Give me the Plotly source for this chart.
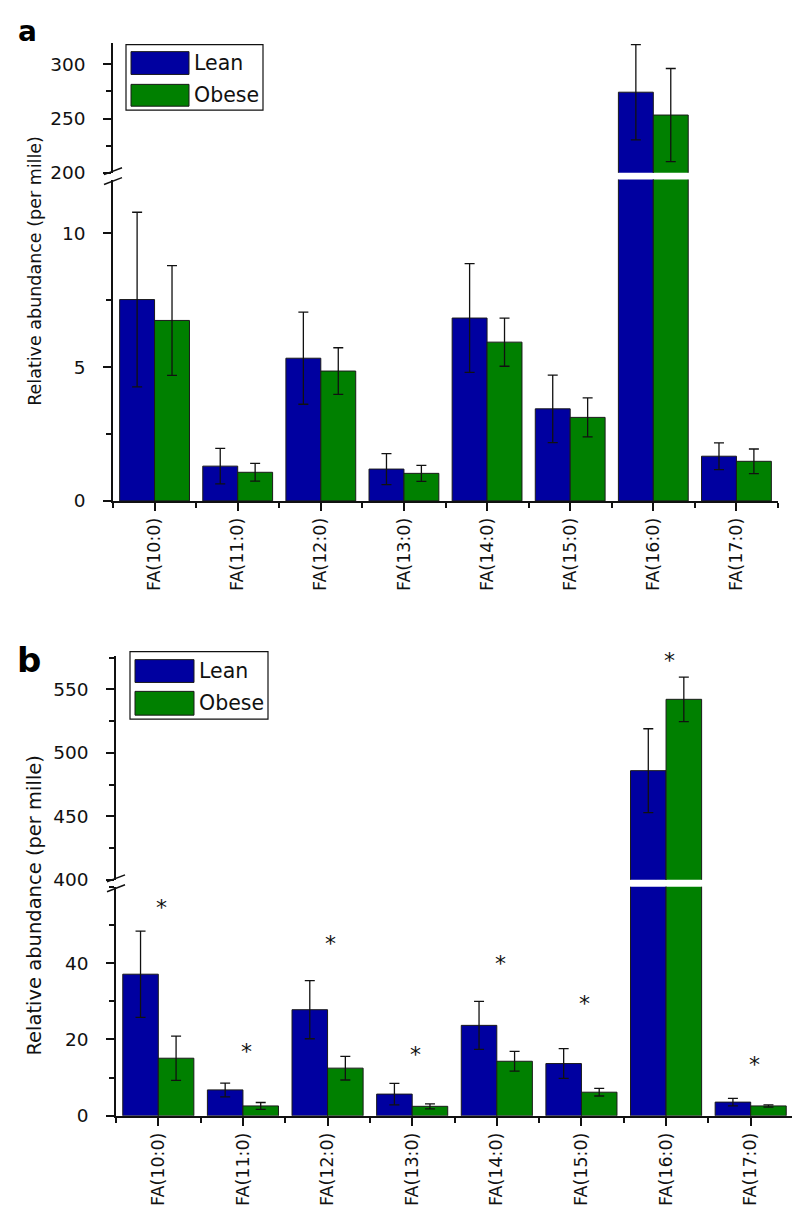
import plotly.graph_objects as go

categories = ["FA(10:0)", "FA(11:0)", "FA(12:0)", "FA(13:0)", "FA(14:0)", "FA(15:0)", "FA(16:0)", "FA(17:0)"]

# Panel a
a_lean = [7.52, 1.30, 5.33, 1.19, 6.83, 3.44, 274.3, 1.67]
a_lean_err = [3.26, 0.66, 1.72, 0.58, 2.03, 1.26, 44.0, 0.50]
a_obese = [6.74, 1.07, 4.85, 1.03, 5.93, 3.12, 253.2, 1.48]
a_obese_err = [2.05, 0.33, 0.87, 0.30, 0.90, 0.73, 43.0, 0.46]

# Panel b
b_lean = [37.1, 6.8, 27.8, 5.7, 23.7, 13.7, 486.0, 3.6]
b_lean_err = [11.3, 1.8, 7.6, 2.8, 6.3, 3.9, 33.0, 1.0]
b_obese = [15.1, 2.6, 12.5, 2.5, 14.3, 6.2, 542.2, 2.6]
b_obese_err = [5.8, 0.9, 3.1, 0.65, 2.6, 1.0, 17.5, 0.3]
b_star_y = [54.5, 16.9, 45.2, 16.2, 40.0, 29.4, 573.0, 13.5]

series_names = ["Lean", "Obese"]
LEAN_C = "#0000A0"
OBESE_C = "#008000"
FONT = "DejaVu Sans"
W, H = 800, 1223

xpos = list(range(len(categories)))

def px(x):
    return x / W

def py(y):
    return 1 - y / H

fig = go.Figure()

def add_pair(vals_l, err_l, vals_o, err_o, xa, ya):
    for vals, err, name, col in [(vals_l, err_l, series_names[0], LEAN_C),
                                 (vals_o, err_o, series_names[1], OBESE_C)]:
        fig.add_trace(go.Bar(
            x=xpos, y=vals, name=name, showlegend=False,
            marker=dict(color=col, line=dict(color="#1a1a1a", width=1)),
            error_y=dict(type="data", array=err, visible=True, color="#111111",
                         thickness=1.3, width=5),
            xaxis=xa, yaxis=ya,
        ))

# panel a: lower (y) and upper (y2) segments
add_pair(a_lean, a_lean_err, a_obese, a_obese_err, "x", "y")
add_pair(a_lean, a_lean_err, a_obese, a_obese_err, "x", "y2")
# panel b: lower (y3) and upper (y4)
add_pair(b_lean, b_lean_err, b_obese, b_obese_err, "x2", "y3")
add_pair(b_lean, b_lean_err, b_obese, b_obese_err, "x2", "y4")

tickfont = dict(family=FONT, size=18.5, color="#111111")

def xaxis_cfg(domain, anchor, fsize):
    return dict(domain=domain, anchor=anchor, range=[-0.5, 7.5],
                tickmode="array", tickvals=xpos, ticktext=categories,
                tickangle=-90, ticks="outside", ticklen=8, tickwidth=1.5,
                tickcolor="#111111", showline=True, linecolor="#111111",
                linewidth=1.5, showgrid=False, zeroline=False,
                tickfont=dict(family=FONT, size=fsize, color="#111111"),
                minor=dict(tickmode="array", tickvals=[i + 0.5 for i in range(-1, 8)],
                           ticks="outside", ticklen=5, tickwidth=1.5, tickcolor="#111111"),
                fixedrange=True)

def yaxis_cfg(domain, anchor, rng, tv, mdt):
    return dict(domain=domain, anchor=anchor, range=rng, tickmode="array",
                tickvals=tv, ticks="outside", ticklen=8, tickwidth=1.5,
                tickcolor="#111111", showline=True, linecolor="#111111",
                linewidth=1.5, showgrid=False, zeroline=False, tickfont=tickfont,
                ticklabelstandoff=14,
                minor=dict(ticks="outside", ticklen=5, tickwidth=1.5,
                           tickcolor="#111111", tick0=rng[0], dtick=mdt),
                fixedrange=True)

fig.update_layout(
    width=W, height=H,
    margin=dict(l=0, r=0, t=0, b=0),
    paper_bgcolor="white", plot_bgcolor="rgba(0,0,0,0)",
    barmode="group", bargap=0.16, bargroupgap=0,
    showlegend=False,
    xaxis=xaxis_cfg([px(105), px(770)], "y", 17.5),
    yaxis=yaxis_cfg([py(497), py(173)], "x", [0, 12], [0, 5, 10], 2.5),
    yaxis2=yaxis_cfg([py(166), py(35)], "x", [200, 320], [200, 250, 300], 25),
    xaxis2=xaxis_cfg([px(108), px(785)], "y3", 17.5),
    yaxis3=yaxis_cfg([py(1117), py(886)], "x2", [0, 60], [0, 20, 40], 10),
    yaxis4=yaxis_cfg([py(879), py(653)], "x2", [400, 576.6], [400, 450, 500, 550], 25),
)

shapes = []
annotations = []

# axis break marks
for ax_x, y_hi, y_lo in [(105, 166, 173), (108, 879, 886)]:
    for yy in (y_hi - 1.5, y_lo + 1.5):
        shapes.append(dict(type="line", xref="paper", yref="paper",
                           x0=px(ax_x - 9), y0=py(yy + 3.5), x1=px(ax_x + 9), y1=py(yy - 3.5),
                           line=dict(color="#111111", width=1.5)))
    shapes.append(dict(type="line", xref="paper", yref="paper",
                       x0=px(ax_x), y0=py(y_hi + 2), x1=px(ax_x), y1=py(y_lo - 2),
                       line=dict(color="white", width=3)))

# legends (drawn boxes with text)
def add_legend(box, sw_x, lean_y, obese_y, txt_x, fsize):
    shapes.append(dict(type="rect", xref="paper", yref="paper",
                       x0=px(box[0]), x1=px(box[1]), y0=py(box[3]), y1=py(box[2]),
                       line=dict(color="#111111", width=1.2), fillcolor="white", layer="above"))
    for (y0, y1), col, name in [(lean_y, LEAN_C, series_names[0]), (obese_y, OBESE_C, series_names[1])]:
        shapes.append(dict(type="rect", xref="paper", yref="paper",
                           x0=px(sw_x[0]), x1=px(sw_x[1]), y0=py(y1), y1=py(y0),
                           line=dict(color="#1a1a1a", width=1), fillcolor=col, layer="above"))
        annotations.append(dict(text=name, xref="paper", yref="paper",
                                x=px(txt_x), y=py((y0 + y1) / 2), xanchor="left", yanchor="middle",
                                showarrow=False, font=dict(family=FONT, size=fsize, color="#111111")))

add_legend((118, 255, 37, 103), (123, 181), (44, 67), (77, 99), 184, 20.5)
add_legend((122, 260, 649, 717), (127, 186), (657, 680), (689, 713), 189, 20.5)

# axis titles
for yc, fs in [(265, 17.5), (905, 19.5)]:
    annotations.append(dict(text="Relative abundance (per mille)", xref="paper", yref="paper",
                            x=px(27), y=py(yc), textangle=-90, showarrow=False,
                            xanchor="center", yanchor="middle",
                            font=dict(family=FONT, size=fs, color="#111111")))

# panel letters
annotations.append(dict(text="<b>a</b>", xref="paper", yref="paper", x=px(8), y=py(24),
                        xanchor="left", yanchor="middle", showarrow=False,
                        font=dict(family=FONT, size=28, color="black")))
annotations.append(dict(text="<b>b</b>", xref="paper", yref="paper", x=px(7), y=py(657),
                        xanchor="left", yanchor="middle", showarrow=False,
                        font=dict(family=FONT, size=34, color="black")))

# significance stars (panel b)
for i, sy in enumerate(b_star_y):
    annotations.append(dict(text="*", xref="x2", yref="y4" if sy >= 400 else "y3",
                            x=xpos[i] + 0.04, y=sy, xanchor="center", yanchor="middle",
                            yshift=0, showarrow=False,
                            font=dict(family=FONT, size=22, color="#111111")))

fig.update_layout(shapes=shapes, annotations=annotations)
fig.write_html("out.html")
